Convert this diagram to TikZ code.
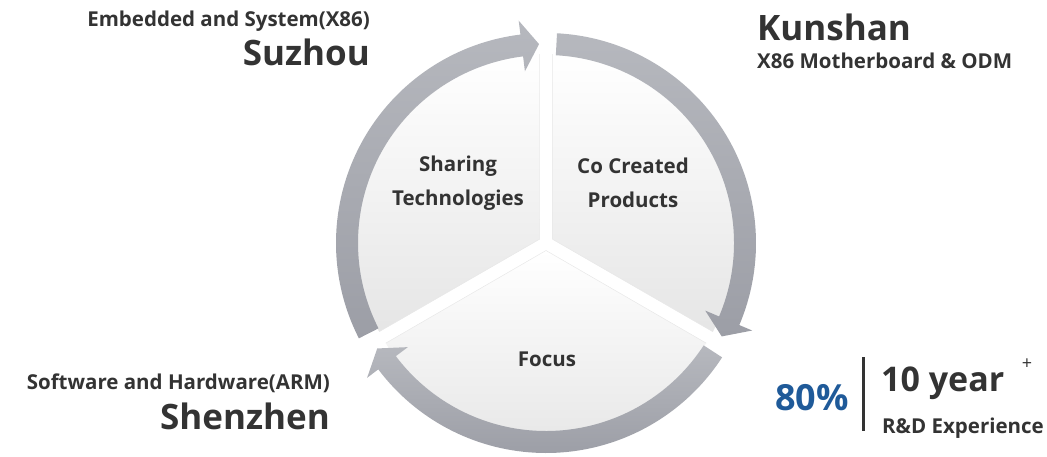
\documentclass[tikz,border=0pt]{standalone}
\usepackage{fontspec}
\setmainfont{Open Sans}
\usetikzlibrary{positioning}
\definecolor{txtgray}{HTML}{333333}
\definecolor{ringtop}{HTML}{B6B8BE}
\definecolor{ringbot}{HTML}{9C9EA6}
\definecolor{pctblue}{HTML}{1F5A99}
\tikzset{
  ring/.style = {top color=ringtop, bottom color=ringbot, draw=none},
  sec/.style = {top color=white, middle color=black!2, bottom color=black!10,
    draw=none},
  secedge/.style = {draw=black!9, line width=0.5pt},
  lab/.style = {font=\bfseries\fontsize{20.5}{34}\selectfont, text=txtgray,
    align=center, inner sep=0pt},
  city/.style = {font=\bfseries\fontsize{35}{40}\selectfont, text=txtgray,
    inner sep=0pt},
  subt/.style = {font=\bfseries\fontsize{20.5}{24}\selectfont, text=txtgray,
    inner sep=0pt},
  yr/.style = {font=\bfseries\fontsize{34}{38}\selectfont, text=txtgray,
    inner sep=0pt},
  pct/.style = {font=\bfseries\fontsize{36}{40}\selectfont, text=pctblue,
    inner sep=0pt},
  bar/.style = {draw=txtgray, line width=3pt}
}

\begin{document}
\begin{tikzpicture}[x=1pt, y=1pt]
  \useasboundingbox (0,0) rectangle (1047,456);
  \begin{scope}[shift={(546,213)}]
    % three sectors, pulled apart along their bisectors
    \foreach \m in {150, 30, 270} {
      \pgfmathsetmacro\lo{\m-58}
      \pgfmathsetmacro\hi{\m+58}
      \shade[sec] (\m:7.5) -- (\lo:189) arc[start angle=\lo, end angle=\hi,
        radius=189pt] -- cycle;
      \draw[secedge] (\lo:189) -- (\m:7.5) -- (\hi:189);
    }
    % curved arrows of the ring
    \foreach \e in {90, -30, 210} {
      \pgfmathsetmacro\st{\e+117}
      \pgfmathsetmacro\bs{\e+7}
      \pgfmathsetmacro\tp{\e+2}
      \shade[ring] (\st:210) arc[start angle=\st, end angle=\bs, radius=210pt]
        -- (\bs:224) -- (\tp:199) -- (\bs:173) -- (\bs:188)
        arc[start angle=\bs, end angle=\st, radius=188pt] -- cycle;
    }
  \end{scope}
  \node[lab] (shr) at (458,273) {Sharing\\Technologies};
  \node[lab] (cocr) at (633,273) {Co Created\\Products};
  \node[lab] (foc) at (547,97) {Focus};
  \node[subt, anchor=base east] (emb) at (370,429) {Embedded and System(X86)};
  \node[city, anchor=base east] (suz) at (370,390) {Suzhou};
  \node[city, anchor=base west] (kun) at (757,415) {Kunshan};
  \node[subt, anchor=base west] (x86) at (757,387) {X86 Motherboard \& ODM};
  \node[subt, anchor=base east] (sw) at (330,67) {Software and Hardware(ARM)};
  \node[city, anchor=base east] (shz) at (330,27) {Shenzhen};
  \node[pct, anchor=base east] (pc) at (849,46) {80\%};
  \coordinate (bartop) at (863,99);
  \coordinate (barbot) at (863,25);
  \draw[bar] (bartop) -- (barbot);
  \node[yr, anchor=base west] (yrs) at (881,65) {10 year};
  \node[font=\fontsize{18}{20}\selectfont, text=txtgray, inner sep=0pt]
    (plus) at (1027,92) {+};
  \node[subt, anchor=base west] (rd) at (882,23) {R\&D Experience};
\end{tikzpicture}
\end{document}
